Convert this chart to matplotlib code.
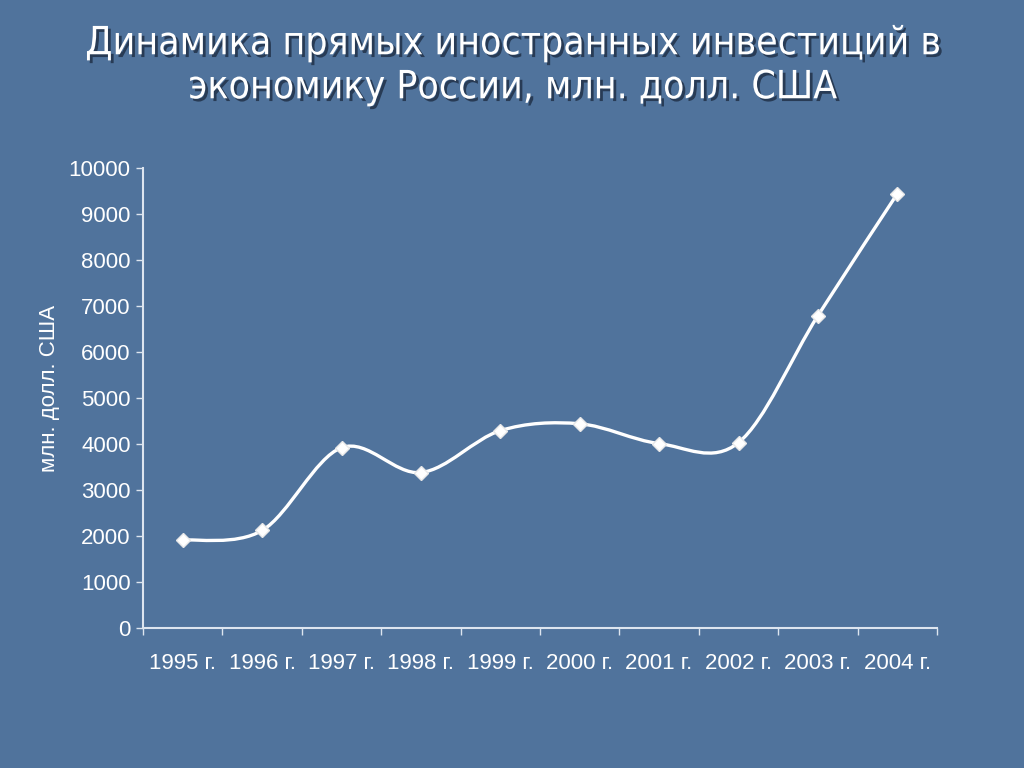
import numpy as np
import matplotlib.pyplot as plt
from matplotlib.path import Path
import matplotlib.patches as mpatches
import matplotlib.patheffects as pe

# данные
years = ['1995 г.', '1996 г.', '1997 г.', '1998 г.', '1999 г.',
         '2000 г.', '2001 г.', '2002 г.', '2003 г.', '2004 г.']
fdi = [1910, 2120, 3920, 3380, 4290, 4440, 4010, 4030, 6790, 9440]

title = 'Динамика прямых иностранных инвестиций в\nэкономику России, млн. долл. США'
ylabel = 'млн. долл. США'
yticks = [0, 1000, 2000, 3000, 4000, 5000, 6000, 7000, 8000, 9000, 10000]

bg = '#50739c'
fg = 'white'
axis_col = '#dde5ef'


def smooth_path(xs, ys, t=1 / 6):
    # Catmull-Rom -> Bezier, как сглаженная линия в Excel
    verts = [(xs[0], ys[0])]
    codes = [Path.MOVETO]
    n = len(xs)
    for i in range(n - 1):
        x0, y0 = (xs[i - 1], ys[i - 1]) if i > 0 else (xs[i], ys[i])
        x1, y1 = xs[i], ys[i]
        x2, y2 = xs[i + 1], ys[i + 1]
        x3, y3 = (xs[i + 2], ys[i + 2]) if i + 2 < n else (x2, y2)
        c1 = (x1 + (x2 - x0) * t, y1 + (y2 - y0) * t)
        c2 = (x2 - (x3 - x1) * t, y2 - (y3 - y1) * t)
        verts += [c1, c2, (x2, y2)]
        codes += [Path.CURVE4] * 3
    return Path(verts, codes)


fig = plt.figure(figsize=(10.24, 7.68), dpi=100, facecolor=bg)
ax = fig.add_axes([143 / 1024, 1 - 628 / 768, 794 / 1024, 460 / 768])
ax.set_facecolor(bg)

x = np.arange(len(years))
ax.add_patch(mpatches.PathPatch(smooth_path(x, fdi), facecolor='none',
                                edgecolor=fg, lw=2.4, zorder=3, capstyle='round'))
ax.plot(x, fdi, ls='none', marker='D', ms=7, mfc='white', mec='#e8e8e8',
        mew=1, zorder=4)

ax.set_xlim(-0.5, len(years) - 0.5)
ax.set_ylim(0, 10000)

# x: засечки между категориями, подписи по центру
ax.set_xticks(np.arange(-0.5, len(years), 1))
ax.set_xticklabels([])
ax.set_xticks(x, minor=True)
ax.set_xticklabels(years, minor=True)
ax.tick_params(axis='x', which='major', length=5, width=1, color=axis_col, direction='out')
ax.tick_params(axis='x', which='minor', length=0, pad=18, labelsize=16,
               labelcolor=fg)

ax.set_yticks(yticks)
ax.set_yticklabels([str(v) for v in yticks])
ax.tick_params(axis='y', length=5, width=1, color=axis_col, direction='out',
               labelsize=16, labelcolor=fg, pad=4)

for lab in ax.get_xticklabels(minor=True) + ax.get_yticklabels():
    lab.set_family('Liberation Sans')

ax.spines[['right', 'top']].set_visible(False)
for s in ['left', 'bottom']:
    ax.spines[s].set_color(axis_col)
    ax.spines[s].set_linewidth(1.5)

ax.set_ylabel(ylabel, color=fg, fontsize=16, family='Liberation Sans')
ax.yaxis.set_label_coords(-0.105, 0.52)

fig.text(0.5, 0.915, title, ha='center', va='center', color=fg, fontsize=28,
         family='DejaVu Sans', stretch='condensed', linespacing=1.2,
         path_effects=[pe.withSimplePatchShadow(offset=(2, -2), shadow_rgbFace='#1e2e44', alpha=0.8)])

plt.savefig('out.png', dpi=100, facecolor=bg)
